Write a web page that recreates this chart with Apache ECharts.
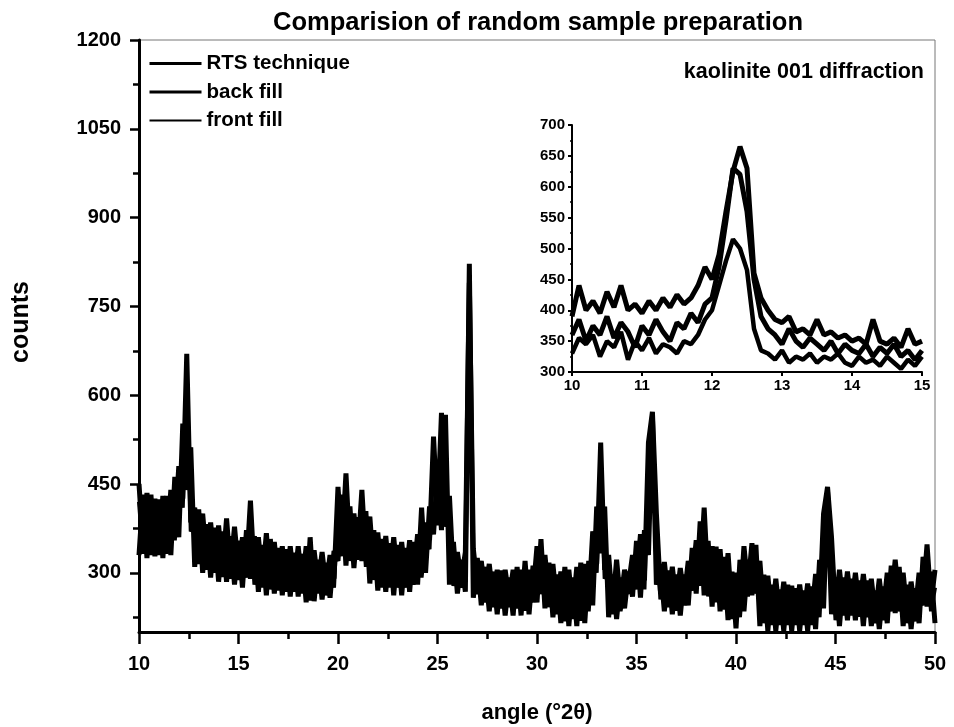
<!DOCTYPE html>
<html>
<head>
<meta charset="utf-8">
<script src="https://cdn.jsdelivr.net/npm/echarts@6/dist/echarts.min.js"></script>
<style>
html,body{margin:0;padding:0;background:#fff;}
#chart{width:954px;height:727px;}
</style>
</head>
<body>
<div id="chart"></div>
<script>
// ---------------- data ----------------
const seriesNames = ['RTS technique', 'back fill', 'front fill'];

// main pattern: angle grid 10 .. 50 deg (2θ), step 0.2
const angleStart = 10, angleStep = 0.2;
const rtsCounts = [
450,347,435,345,425,345,430,347,440,370,480,425,670,385,410,330,400,320,385,315,
380,308,392,305,378,303,360,307,422,295,360,290,367,287,352,285,345,283,345,283,
345,280,345,268,338,280,335,277,330,290,445,343,468,335,400,337,440,325,395,303,
368,290,362,290,360,290,352,290,355,295,365,307,385,355,530,395,570,393,430,293,
335,290,335,790,340,279,320,265,315,257,305,255,305,257,305,255,305,251,305,265,
345,279,330,257,315,245,302,233,305,237,310,234,315,250,370,315,520,305,330,245,
322,250,305,280,330,287,365,287,520,572,400,270,318,257,310,251,308,260,320,285,
355,293,410,275,345,265,340,253,333,237,300,240,345,275,350,280,320,230,295,227,
290,227,285,227,278,227,280,227,282,227,298,240,400,445,360,235,305,243,302,243,
300,241,298,240,290,230,290,235,300,250,322,250,300,230,285,233,300,260,348,250,
305];
const backFillCounts = [
330,432,325,432,328,424,325,430,330,462,360,552,440,512,310,407,300,382,292,376,
285,370,285,362,280,354,275,372,290,362,268,347,262,357,265,342,262,340,260,334,
260,332,250,360,252,322,255,317,258,337,320,432,312,412,308,394,320,404,282,372,
270,357,268,350,262,347,262,342,268,352,280,410,300,412,365,472,372,567,280,352,
265,322,268,822,258,325,245,310,235,302,230,304,228,292,228,310,228,320,230,312,
250,357,240,317,225,297,215,310,210,292,210,317,215,320,245,412,333,412,225,297,
222,292,240,302,260,354,258,372,330,564,280,312,235,304,230,297,228,297,245,342,
265,387,262,354,243,344,235,327,220,302,206,322,235,322,262,347,210,297,202,280,
202,272,202,280,202,274,202,270,202,277,205,322,240,437,230,292,210,292,220,290,
220,287,210,287,210,270,205,277,215,312,232,310,210,280,205,274,215,327,243,302,
215];
const frontFillCounts = [
420,332,405,330,395,330,400,332,410,355,450,410,640,370,380,315,370,305,355,300,
350,293,362,290,348,288,330,292,392,280,330,275,337,272,322,270,315,268,315,268,
315,265,315,253,308,265,305,262,300,275,415,328,438,320,370,322,410,310,365,288,
338,275,332,275,330,275,322,275,325,280,335,292,355,340,500,380,540,378,400,278,
305,275,305,760,310,264,290,250,285,242,275,240,275,242,275,240,275,236,275,250,
315,264,300,242,285,230,272,218,275,222,280,219,285,235,340,300,490,290,300,230,
292,235,275,265,300,272,335,272,490,540,370,255,288,242,280,236,278,245,290,270,
325,278,380,260,315,250,310,238,303,222,270,225,315,260,320,265,290,215,265,212,
260,212,255,212,248,212,250,212,252,212,268,225,370,420,330,220,275,228,272,228,
270,226,268,225,260,215,260,220,270,235,292,235,270,215,255,218,270,245,318,235,
275];

// inset: kaolinite 001 diffraction, 10 .. 15 deg, step 0.1
const insetStart = 10, insetStep = 0.1;
const insetRts = [
390,440,400,415,395,430,405,440,400,410,395,415,400,420,405,425,410,420,440,470,
450,490,560,625,665,630,460,420,400,385,380,390,365,370,360,385,360,365,355,360,
350,355,345,385,350,345,355,340,370,345,350];
const insetBack = [
360,385,350,375,360,390,355,380,365,340,375,360,385,365,350,380,370,395,380,410,
420,470,545,630,620,560,450,390,370,360,345,370,350,340,355,345,335,350,330,345,
335,330,345,325,340,330,345,325,335,320,335];
const insetFront = [
330,355,345,360,325,350,340,365,320,350,335,355,330,345,340,330,350,345,360,385,
400,440,480,515,500,465,370,335,330,320,335,315,325,320,330,315,325,320,330,315,
310,325,315,320,310,325,315,305,320,310,325];

// axis ticks
const mainYLabels = [300, 450, 600, 750, 900, 1050, 1200];
const mainYMinor = [225, 375, 525, 675, 825, 975, 1125];

// ---------------- chart ----------------
const FONT = 'Liberation Sans, Arial, Helvetica, sans-serif';
function pairs(start, step, arr) {
  return arr.map((v, i) => [+(start + step * i).toFixed(2), v]);
}

const chart = echarts.init(document.getElementById('chart'), null, {renderer: 'canvas'});

const lineWidths = [5, 5, 4];
const legendWidths = [3, 3, 2];
const mainData = [rtsCounts, backFillCounts, frontFillCounts];
const insetData = [insetRts, insetBack, insetFront];
const insetWidths = [5, 5, 4.5];

const series = [];
mainData.forEach((arr, k) => {
  series.push({
    name: seriesNames[k], type: 'line', xAxisIndex: 0, yAxisIndex: 0,
    data: pairs(angleStart, angleStep, arr), symbol: 'none', silent: true,
    itemStyle: {color: '#000'},
    lineStyle: {color: '#000', width: lineWidths[k], join: 'bevel'}, z: 3
  });
});
insetData.forEach((arr, k) => {
  series.push({
    name: seriesNames[k] + ' (inset)', type: 'line', xAxisIndex: 1, yAxisIndex: 2,
    data: pairs(insetStart, insetStep, arr), symbol: 'none', silent: true,
    itemStyle: {color: '#000'},
    lineStyle: {color: '#000', width: insetWidths[k], join: 'bevel'}, z: 3
  });
});

const plainNum = v => String(v);

const option = {
  animation: false,
  backgroundColor: '#fff',
  title: [
    {text: 'Comparision of random sample preparation', left: 533, top: 5, textAlign: 'center',
     textStyle: {fontFamily: FONT, fontWeight: 'bold', fontSize: 25.5, color: '#000'}},
    {text: 'kaolinite 001 diffraction', right: 25, top: 56,
     textStyle: {fontFamily: FONT, fontWeight: 'bold', fontSize: 21.5, color: '#000'}}
  ],
  legend: {
    data: seriesNames.map((n, k) => ({name: n, lineStyle: {width: legendWidths[k], color: '#000'}})),
    orient: 'vertical', left: 148, top: 53, padding: 0,
    itemWidth: 52, itemHeight: 14, itemGap: 7.5, selectedMode: false,
    itemStyle: {opacity: 0},
    textStyle: {fontFamily: FONT, fontWeight: 'bold', fontSize: 20.5, color: '#000'}
  },
  graphic: [
    {type: 'text', left: 9, top: 281, rotation: Math.PI / 2,
     style: {text: 'counts', font: 'bold 25px ' + FONT, fill: '#000'}}
  ],
  grid: [
    {left: 139, right: 19, top: 40, bottom: 95, show: true, borderColor: '#777', borderWidth: 1,
     outerBoundsMode: 'none', containLabel: false},
    {left: 572, right: 32, top: 125, bottom: 355, outerBoundsMode: 'none', containLabel: false}
  ],
  xAxis: [
    {type: 'value', gridIndex: 0, min: 10, max: 50, interval: 5,
     name: 'angle (°2θ)', nameLocation: 'middle', nameGap: 70,
     nameTextStyle: {fontFamily: FONT, fontWeight: 'bold', fontSize: 22, color: '#000'},
     axisLine: {lineStyle: {color: '#000', width: 3}},
     axisTick: {inside: false, length: 12, lineStyle: {color: '#000', width: 2.5}},
     minorTick: {show: true, splitNumber: 2, length: 7, lineStyle: {color: '#000', width: 2.5}},
     splitLine: {show: false},
     axisLabel: {margin: 22, formatter: plainNum, fontFamily: FONT, fontWeight: 'bold', fontSize: 20, color: '#000'}},
    {type: 'value', gridIndex: 1, min: 10, max: 15, interval: 1,
     axisLine: {lineStyle: {color: '#000', width: 2}},
     axisTick: {length: 4, lineStyle: {color: '#000', width: 2}},
     splitLine: {show: false},
     axisLabel: {margin: 6, formatter: plainNum, fontFamily: FONT, fontWeight: 'bold', fontSize: 15, color: '#000'}}
  ],
  yAxis: [
    {type: 'value', gridIndex: 0, position: 'left', min: 200, max: 1200,
     axisLine: {show: true, lineStyle: {color: '#000', width: 3}},
     axisTick: {show: true, length: 9, customValues: mainYLabels, lineStyle: {color: '#000', width: 2.5}},
     splitLine: {show: false},
     axisLabel: {customValues: mainYLabels, formatter: plainNum, margin: 18, fontFamily: FONT, fontWeight: 'bold', fontSize: 20, color: '#000'}},
    {type: 'value', gridIndex: 0, position: 'left', offset: 0, min: 200, max: 1200,
     axisLine: {show: false},
     axisTick: {show: true, length: 6, customValues: mainYMinor, lineStyle: {color: '#000', width: 2.5}},
     splitLine: {show: false},
     axisLabel: {show: false}},
    {type: 'value', gridIndex: 1, min: 300, max: 700, interval: 50,
     axisLine: {show: true, lineStyle: {color: '#000', width: 2}},
     axisTick: {show: true, length: 4, lineStyle: {color: '#000', width: 2}},
     minorTick: {show: true, splitNumber: 2, length: 2, lineStyle: {color: '#000', width: 1.5}},
     splitLine: {show: false},
     axisLabel: {margin: 7, formatter: plainNum, fontFamily: FONT, fontWeight: 'bold', fontSize: 15, color: '#000'}}
  ],
  series: series
};
chart.setOption(option);
</script>
</body>
</html>
